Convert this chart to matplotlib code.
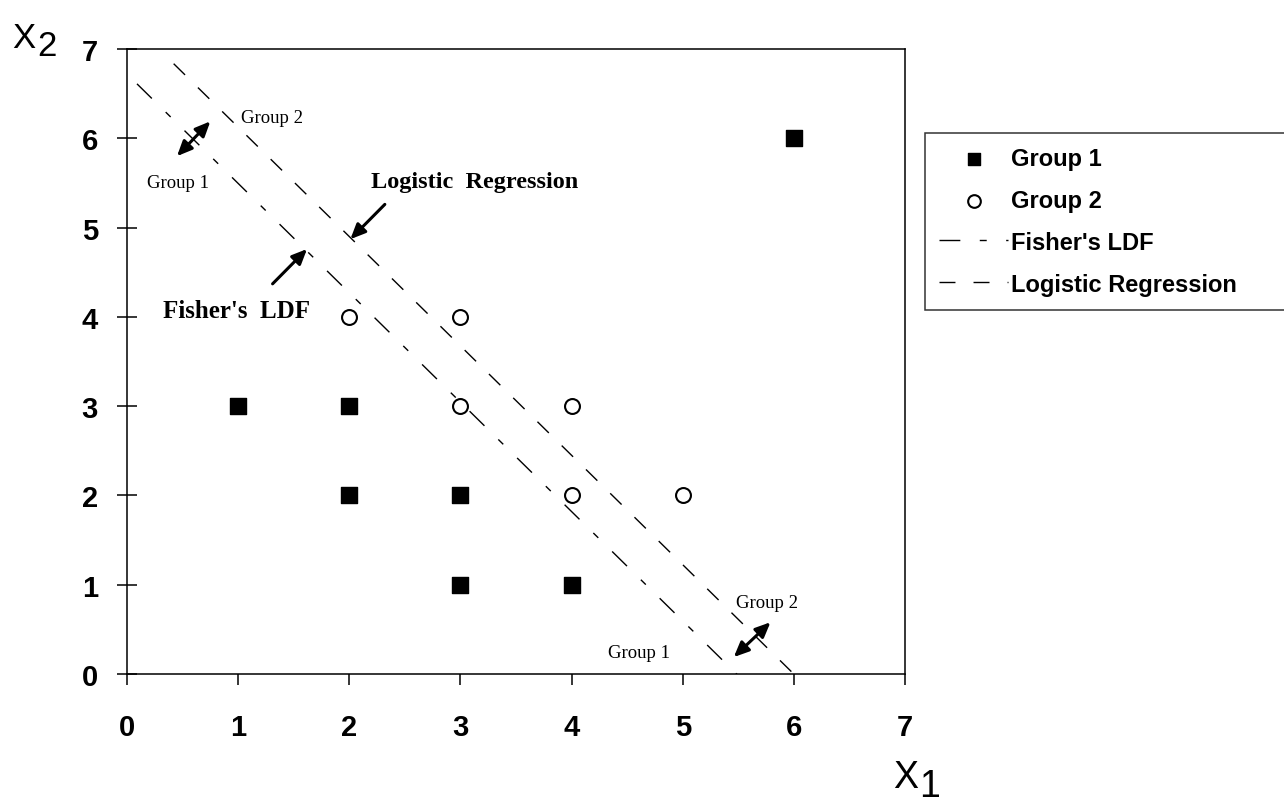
import numpy as np
import matplotlib
matplotlib.use("Agg")
import matplotlib.pyplot as plt

plt.rcParams['font.family'] = ['Liberation Sans', 'DejaVu Sans']

# data
g1_x = [1, 2, 2, 3, 3, 4, 6]
g1_y = [3, 3, 2, 2, 1, 1, 6]
g2_x = [2, 3, 3, 4, 4, 5]
g2_y = [4, 4, 3, 3, 2, 2]

# boundary lines: x2 = a + b*x1, drawn between the two x values
fisher_a, fisher_b = 6.72, -1.225
fisher_x = [0.09, 5.49]
logit_a, logit_b = 7.35, -1.225
logit_x = [0.42, 6.0]

ticks = [0, 1, 2, 3, 4, 5, 6, 7]

fig = plt.figure(figsize=(12.84, 8.04), dpi=100)
ax = fig.add_axes([0.0989, 0.1604, 0.6059, 0.7774])

ax.scatter(g1_x, g1_y, marker='s', s=120, color='black', label='Group 1', zorder=3)
ax.scatter(g2_x, g2_y, marker='o', s=115, facecolor='white', edgecolor='black',
           linewidth=1.5, label='Group 2', zorder=3)

fx = np.array(fisher_x)
ax.plot(fx, fisher_a + fisher_b * fx, color='black', lw=1,
        linestyle=(0, (15, 14, 5, 14)), label="Fisher's LDF")
lx = np.array(logit_x)
ax.plot(lx, logit_a + logit_b * lx, color='black', lw=1,
        linestyle=(0, (11.5, 13)), label='Logistic Regression')

ax.set_xlim(0, 7)
ax.set_ylim(0, 7)
ax.set_xticks(ticks)
ax.set_yticks(ticks)
ax.tick_params(axis='x', direction='out', length=8, width=1.1, pad=20, labelsize=21)
ax.tick_params(axis='y', direction='inout', length=14, width=1.1, pad=14, labelsize=21)
for lab in ax.get_xticklabels() + ax.get_yticklabels():
    lab.set_fontweight('bold')
for sp in ax.spines.values():
    sp.set_linewidth(1.1)

# axis names, the digit sits lower like a subscript
fig.text(893 / 1284, 1 - 788 / 804, 'X', fontsize=27, va='baseline')
fig.text(919 / 1284, 1 - 797 / 804, '1', fontsize=27, va='baseline')
fig.text(12 / 1284, 1 - 48 / 804, 'X', fontsize=25, va='baseline')
fig.text(37 / 1284, 1 - 56 / 804, '2', fontsize=25, va='baseline')

serif = ['Liberation Serif', 'DejaVu Serif']
ax.text(1.03, 6.18, 'Group 2', family=serif, fontsize=13.5, va='baseline')
ax.text(0.18, 5.45, 'Group 1', family=serif, fontsize=13.5, va='baseline')
ax.text(5.48, 0.75, 'Group 2', family=serif, fontsize=13.5, va='baseline')
ax.text(4.33, 0.19, 'Group 1', family=serif, fontsize=13.5, va='baseline')
ax.text(2.2, 5.46, 'Logistic  Regression', family=serif, fontsize=17.5,
        fontweight='bold', va='baseline')
ax.text(0.32, 4.0, "Fisher's  LDF", family=serif, fontsize=18,
        fontweight='bold', va='baseline')

dbl = dict(arrowstyle='<|-|>,head_length=0.9,head_width=0.4', color='black', lw=2.2,
           shrinkA=0, shrinkB=0)
one = dict(arrowstyle='-|>,head_length=0.9,head_width=0.4', color='black', lw=2.2,
           shrinkA=0, shrinkB=0)
ax.annotate('', xy=(0.45, 5.8), xytext=(0.75, 6.19), arrowprops=dbl)
ax.annotate('', xy=(5.46, 0.19), xytext=(5.79, 0.58), arrowprops=dbl)
ax.annotate('', xy=(2.01, 4.87), xytext=(2.32, 5.26), arrowprops=one)
ax.annotate('', xy=(1.62, 4.76), xytext=(1.31, 4.37), arrowprops=one)

leg = ax.legend(loc='upper left', bbox_to_anchor=(1.026, 0.0, 0.55, 0.866),
                mode='expand', frameon=True, fancybox=False, edgecolor='black',
                handlelength=2.9, handletextpad=0.15, markerscale=0.85,
                prop={'weight': 'bold', 'size': 17}, borderpad=0.6,
                labelspacing=0.8, borderaxespad=0)
leg.get_frame().set_linewidth(1.1)

fig.savefig('out.png', dpi=100)
